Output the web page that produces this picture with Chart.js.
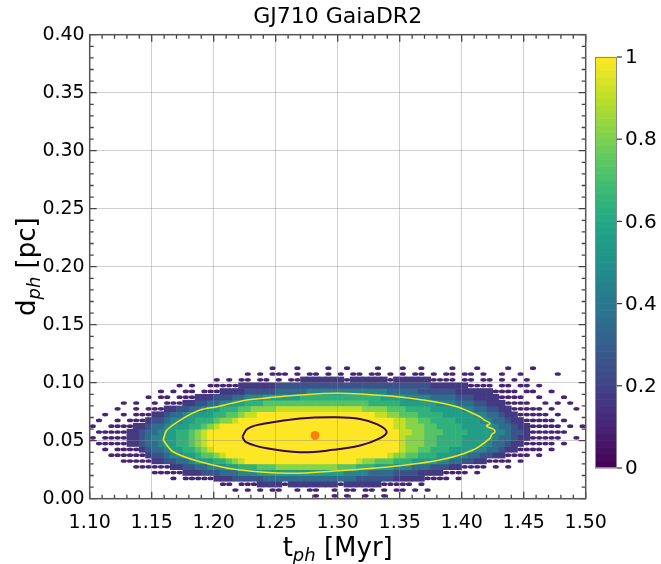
<!DOCTYPE html>
<html>
<head>
<meta charset="utf-8">
<script src="https://cdn.jsdelivr.net/npm/chart.js@4.4.0/dist/chart.umd.min.js"></script>
<style>
html,body{margin:0;padding:0;background:#fff;}
#wrap{width:661px;height:564px;position:relative;}
</style>
</head>
<body>
<div id="wrap"><canvas id="c" width="661" height="564"></canvas></div>
<script>
// ---------------- data ----------------
const TITLE = 'GJ710 GaiaDR2';
const xTickValues = [1.10, 1.15, 1.20, 1.25, 1.30, 1.35, 1.40, 1.45, 1.50];
const xTickLabels = ['1.10', '1.15', '1.20', '1.25', '1.30', '1.35', '1.40', '1.45', '1.50'];
const yTickValues = [0.00, 0.05, 0.10, 0.15, 0.20, 0.25, 0.30, 0.35, 0.40];
const yTickLabels = ['0.00', '0.05', '0.10', '0.15', '0.20', '0.25', '0.30', '0.35', '0.40'];
const colorbarTicks = [0, 0.2, 0.4, 0.6, 0.8, 1];
const colorbarLabels = ['0', '0.2', '0.4', '0.6', '0.8', '1'];

// density cells: column i covers t = 1.10 + 0.005*i, row j covers d = 0.005*j
const tBinStart = 1.10;
const tBinWidth = 0.005;
const dBinWidth = 0.005;
// normalised density for each level code
const levelValues = {'0': 0.10, '1': 0.17, '2': 0.26, '3': 0.35, '4': 0.45, '5': 0.55,
                     '6': 0.64, '7': 0.73, '8': 0.82, '9': 0.91, 'Y': 1.0};
// runs "firstCol-lastCol:level" for each row, bottom (j=0) to top
const densityRows = [
  "",
  "",
  "27-30:1 32-39:1 41-46:1",
  "20-22:1 23-27:2 28-42:3 43-48:2 49-53:1",
  "15-17:1 18-20:2 21-23:3 24-26:4 27-40:5 41-44:4 45-48:3 49-52:2 53-56:1",
  "13-14:1 15-16:2 17-18:3 19-21:4 22-23:5 24-26:6 27-29:7 30-39:8 40-42:7 43-45:6 46-48:5 49-51:4 52-54:3 55-57:2 58-59:1",
  "10-11:1 12-13:2 14-15:3 16:4 17-19:5 20-21:6 22:7 23:8 24:9 25-42:Y 43:9 44-45:8 46-48:7 49-51:6 52-55:5 56-57:4 58-59:3 60-61:2 62-63:1",
  "9:1 10-11:2 12:3 13-14:4 15-16:5 17:6 18-19:7 20:8 21:9 22-47:Y 48:9 49-50:8 51-52:7 53-55:6 56-58:5 59-60:4 61-62:3 63-64:2 65-66:1",
  "8:1 9:2 10-11:3 12:4 13-14:5 15-16:6 17:7 18:8 19:9 20-49:Y 50:9 51-52:8 53-54:7 55-57:6 58-61:5 62-63:4 64-65:3 66:2 67-68:1",
  "6-7:1 8:2 9-10:3 11:4 12-13:5 14-15:6 16:7 17:8 18:9 19-49:Y 50:9 51-53:8 54-55:7 56-59:6 60-63:5 64:4 65-66:3 67:2 68-69:1",
  "6-7:1 8:2 9:3 10-11:4 12-13:5 14-15:6 16:7 17:8 18:9 19-49:Y 50:9 51-53:8 54-55:7 56-59:6 60-64:5 65:4 66-67:3 68:2 69-70:1",
  "6-7:1 8:2 9-10:3 11:4 12-13:5 14-15:6 16:7 17:8 18:9 19-49:Y 50-51:9 52-53:8 54-56:7 57-60:6 61-64:5 65-66:4 67:3 68-69:2 70:1",
  "7-8:1 9:2 10-11:3 12:4 13-15:5 16-17:6 18:7 19:8 20:9 21-48:Y 49-50:9 51-53:8 54-55:7 56-59:6 60-64:5 65:4 66-67:3 68:2 69-70:1",
  "9:1 10-11:2 12:3 13-14:4 15-16:5 17-19:6 20:7 21-22:8 23:9 24-48:Y 49-50:9 51-52:8 53-54:7 55-58:6 59-62:5 63-64:4 65-66:3 67:2 68-69:1",
  "10-11:1 12:2 13-14:3 15:4 16-19:5 20-21:6 22-23:7 24:8 25-26:9 27-45:Y 46-47:9 48-49:8 50-52:7 53-56:6 57-61:5 62-63:4 64-65:3 66:2 67-68:1",
  "12-13:1 14-15:2 16-17:3 18:4 19-20:5 21-23:6 24-25:7 26-29:8 30-43:9 44-47:8 48-50:7 51-54:6 55-59:5 60-61:4 62-63:3 64-65:2 66-67:1",
  "15-16:1 17-18:2 19-20:3 21-22:4 23-24:5 25-27:6 28-44:7 45-49:6 50-55:5 56-58:4 59-61:3 62-63:2 64-66:1",
  "17-19:1 20-22:2 23-24:3 25-27:4 28-33:5 34-46:6 47-50:5 51-54:4 55-58:3 59-61:2 62-65:1",
  "21-24:1 25-29:2 30-34:3 35-47:4 48-52:3 53-58:2 59-64:1",
  "24-29:1 30-54:2 55-60:1",
  "34-40:1 42-47:1 49-54:1",
  "",
  ""
];
// isolated low-count cells (columns) for each row
const speckleCols = [
  [36, 39, 41, 44, 47],
  [23, 25, 27, 29, 30, 33, 35, 36, 39, 41, 42, 44, 45, 47, 49, 50, 52, 54],
  [21, 22, 24, 25, 26, 31, 40, 47, 48, 49, 50, 51, 53],
  [13, 15, 16, 17, 18, 19, 54, 55, 56, 57, 59],
  [10, 11, 12, 13, 14, 57, 58, 59, 60, 62],
  [7, 8, 9, 10, 11, 12, 60, 61, 62, 63, 65, 67],
  [5, 6, 7, 8, 9, 64, 65, 66, 67, 69],
  [3, 4, 5, 6, 7, 8, 67, 68, 69, 70, 72],
  [2, 4, 5, 6, 7, 69, 70, 71, 72, 74],
  [1, 2, 3, 4, 5, 70, 71, 72, 73, 74, 76],
  [0, 2, 3, 4, 5, 71, 72, 73, 74, 75, 78],
  [1, 2, 3, 4, 5, 71, 72, 73, 74, 75, 76],
  [0, 3, 4, 5, 6, 71, 72, 73, 74, 75, 77, 79],
  [1, 4, 6, 7, 8, 70, 71, 72, 73, 74, 76],
  [2, 5, 7, 8, 9, 69, 70, 71, 72, 73, 75],
  [4, 7, 9, 10, 11, 68, 69, 70, 71, 72, 74, 78],
  [5, 7, 10, 12, 13, 14, 67, 68, 69, 70, 73, 75, 77],
  [9, 11, 12, 14, 15, 16, 66, 67, 68, 69, 72, 76],
  [11, 13, 15, 16, 18, 19, 20, 65, 66, 67, 68, 70, 71, 74],
  [14, 16, 19, 20, 21, 22, 23, 61, 62, 63, 64, 66, 67, 69, 70, 72],
  [20, 22, 24, 25, 27, 28, 30, 32, 33, 41, 48, 55, 56, 57, 58, 60, 61, 63, 64, 66, 68, 70],
  [25, 27, 29, 30, 31, 33, 35, 36, 38, 40, 42, 43, 45, 46, 48, 50, 52, 53, 55, 57, 58, 60, 61, 63, 66, 69, 75],
  [29, 33, 38, 41, 46, 50, 53, 58, 62, 67, 71]
];

// outer (yellow) contour
const contourYellowT = [1.1592, 1.1623, 1.1753, 1.1890, 1.2027, 1.2269, 1.2454, 1.2696, 1.3002, 1.3422, 1.3688, 1.3962, 1.4147, 1.4180, 1.4228, 1.4200, 1.4255, 1.4269, 1.4240, 1.4228, 1.4091, 1.3825, 1.3422, 1.3002, 1.2615, 1.2212, 1.1890, 1.1672, 1.1592];
const contourYellowD = [0.0506, 0.0592, 0.0693, 0.0765, 0.0793, 0.0851, 0.0871, 0.0894, 0.0909, 0.0885, 0.0851, 0.0793, 0.0707, 0.0680, 0.0650, 0.0625, 0.0600, 0.0578, 0.0550, 0.0521, 0.0420, 0.0334, 0.0276, 0.0241, 0.0219, 0.0247, 0.0319, 0.0405, 0.0506];
// inner (dark) contour
const contourBlackT = [1.2231, 1.2275, 1.2427, 1.2696, 1.2965, 1.3180, 1.3320, 1.3395, 1.3330, 1.3180, 1.2965, 1.2696, 1.2427, 1.2260, 1.2231];
const contourBlackD = [0.0534, 0.0605, 0.0650, 0.0691, 0.0702, 0.0688, 0.0640, 0.0575, 0.0515, 0.0458, 0.0421, 0.0400, 0.0434, 0.0488, 0.0534];
// most likely point
const peakT = [1.2817];
const peakD = [0.0545];

// ---------------- helpers ----------------
const VIR = [[68,1,84],[72,36,117],[65,68,135],[53,95,141],[42,120,142],[33,145,140],
             [34,168,132],[68,191,112],[122,209,81],[189,223,38],[253,231,37]];
function viridis(v) {
  v = Math.max(0, Math.min(1, v));
  const n = VIR.length - 1, f = v * n;
  const i = Math.min(n - 1, Math.floor(f)), r = f - i;
  const a = VIR[i], b = VIR[i + 1];
  return 'rgb(' + Math.round(a[0] + (b[0] - a[0]) * r) + ',' + Math.round(a[1] + (b[1] - a[1]) * r) + ',' + Math.round(a[2] + (b[2] - a[2]) * r) + ')';
}
function parseRuns(s) {
  const out = [];
  s.trim().split(/\s+/).filter(Boolean).forEach(tok => {
    const parts = tok.split(':');
    const rg = parts[0].split('-').map(Number);
    const a = rg[0], b = rg.length > 1 ? rg[1] : rg[0];
    for (let i = a; i <= b; i++) out.push([i, parts[1]]);
  });
  return out;
}
function zip(xs, ys) { return xs.map((x, k) => ({x: x, y: ys[k]})); }

const FONT = "'DejaVu Sans', 'Liberation Sans', sans-serif";

// cells are painted before the grid so the grid sits on top
const densityPlugin = {
  id: 'density',
  beforeDraw(chart) {
    const ctx = chart.ctx, a = chart.chartArea, xs = chart.scales.x, ys = chart.scales.y;
    ctx.save();
    ctx.fillStyle = '#fff';
    ctx.fillRect(0, 0, chart.width, chart.height);
    ctx.beginPath(); ctx.rect(a.left, a.top, a.right - a.left, a.bottom - a.top); ctx.clip();
    densityRows.forEach((s, j) => {
      const yTop = ys.getPixelForValue((j + 1) * dBinWidth);
      const yBot = ys.getPixelForValue(j * dBinWidth);
      parseRuns(s).forEach(([i, lv]) => {
        const t0 = tBinStart + i * tBinWidth;
        const xl = xs.getPixelForValue(t0), xr = xs.getPixelForValue(t0 + tBinWidth);
        ctx.fillStyle = viridis(levelValues[lv]);
        ctx.fillRect(xl - 0.3, yTop - 0.3, xr - xl + 0.6, yBot - yTop + 0.6);
      });
      (speckleCols[j] || []).forEach(i => {
        const t0 = tBinStart + i * tBinWidth;
        const xl = xs.getPixelForValue(t0), xr = xs.getPixelForValue(t0 + tBinWidth);
        ctx.fillStyle = viridis(levelValues['0']);
        ctx.beginPath();
        ctx.ellipse((xl + xr) / 2, (yTop + yBot) / 2, (xr - xl) / 2, (yBot - yTop) * 0.32, 0, 0, Math.PI * 2);
        ctx.fill();
      });
    });
    ctx.restore();
  }
};

// inward ticks on all four sides and the frame
const framePlugin = {
  id: 'frame',
  afterDatasetsDraw(chart) {
    const ctx = chart.ctx, a = chart.chartArea, xs = chart.scales.x, ys = chart.scales.y;
    ctx.save();
    ctx.strokeStyle = '#444';
    ctx.lineWidth = 1.3;
    ctx.beginPath();
    for (let k = 0; k <= 40; k++) {
      const x = xs.getPixelForValue(1.10 + k * 0.01);
      const len = (k % 5 === 0) ? 7 : 4;
      ctx.moveTo(x, a.bottom); ctx.lineTo(x, a.bottom - len);
      ctx.moveTo(x, a.top); ctx.lineTo(x, a.top + len);
    }
    for (let k = 0; k <= 40; k++) {
      const y = ys.getPixelForValue(k * 0.01);
      const len = (k % 5 === 0) ? 7 : 4;
      ctx.moveTo(a.left, y); ctx.lineTo(a.left + len, y);
      ctx.moveTo(a.right, y); ctx.lineTo(a.right - len, y);
    }
    ctx.stroke();
    ctx.strokeStyle = '#555';
    ctx.lineWidth = 1.5;
    ctx.strokeRect(a.left, a.top, a.right - a.left, a.bottom - a.top);
    ctx.restore();
  },
  afterDraw(chart) {
    const ctx = chart.ctx, a = chart.chartArea;
    ctx.save();
    // colour bar
    const cbL = 595, cbR = 617, cbT = 57, cbB = 468, N = 60;
    for (let k = 0; k < N; k++) {
      const y0 = cbB - (cbB - cbT) * (k + 1) / N, y1 = cbB - (cbB - cbT) * k / N;
      ctx.fillStyle = viridis((k + 0.5) / N);
      ctx.fillRect(cbL, y0 - 0.3, cbR - cbL, y1 - y0 + 0.6);
    }
    ctx.strokeStyle = '#888'; ctx.lineWidth = 1;
    ctx.strokeRect(cbL + 0.5, cbT + 0.5, cbR - cbL - 1, cbB - cbT - 1);
    ctx.strokeStyle = '#333'; ctx.lineWidth = 1.2;
    ctx.fillStyle = '#000';
    ctx.font = '20px ' + FONT;
    ctx.textAlign = 'left'; ctx.textBaseline = 'middle';
    colorbarTicks.forEach((v, k) => {
      const y = cbB - (cbB - cbT) * v;
      ctx.beginPath(); ctx.moveTo(cbR, y); ctx.lineTo(cbR + 5, y); ctx.stroke();
      ctx.fillText(colorbarLabels[k], cbR + 8, y + 1);
    });
    // axis titles with subscripts
    function drawParts(parts, cx, baseY) {
      let w = 0;
      parts.forEach(p => { ctx.font = p.font; p.w = ctx.measureText(p.text).width; w += p.w; });
      let x = cx - w / 2;
      ctx.textAlign = 'left'; ctx.textBaseline = 'alphabetic';
      parts.forEach(p => { ctx.font = p.font; ctx.fillText(p.text, x, baseY + p.dy); x += p.w; });
    }
    ctx.fillStyle = '#000';
    const big = '26px ' + FONT, sub = 'italic 18px ' + FONT;
    drawParts([{text: 't', font: big, dy: 0}, {text: 'ph', font: sub, dy: 5}, {text: ' [Myr]', font: big, dy: 0}],
              (a.left + a.right) / 2, 556);
    ctx.translate(35, (a.top + a.bottom) / 2);
    ctx.rotate(-Math.PI / 2);
    drawParts([{text: 'd', font: big, dy: 0}, {text: 'ph', font: sub, dy: 5}, {text: ' [pc]', font: big, dy: 0}], 0, 0);
    ctx.restore();
  }
};

const chart = new Chart(document.getElementById('c'), {
  type: 'scatter',
  data: {
    datasets: [
      {label: 'peak', data: zip(peakT, peakD), pointRadius: 4.5, pointBackgroundColor: '#ff7f0e',
       pointBorderWidth: 0, showLine: false},
      {label: 'inner contour', data: zip(contourBlackT, contourBlackD), showLine: true, pointRadius: 0,
       borderColor: '#3a0a45', borderWidth: 2, tension: 0.4, fill: false},
      {label: 'outer contour', data: zip(contourYellowT, contourYellowD), showLine: true, pointRadius: 0,
       borderColor: '#f5e11a', borderWidth: 1.6, tension: 0.3, fill: false}
    ]
  },
  options: {
    responsive: false,
    animation: false,
    devicePixelRatio: 1,
    layout: {padding: {left: 0, right: 75.3, top: 0, bottom: 0}},
    plugins: {
      legend: {display: false},
      tooltip: {enabled: false},
      title: {display: true, text: TITLE, fullSize: false, color: '#000',
              font: {family: FONT, size: 22, weight: 'normal'}, padding: {top: 4, bottom: 4.3}}
    },
    scales: {
      x: {
        type: 'linear', min: 1.10, max: 1.50,
        afterBuildTicks(s) { s.ticks = xTickValues.map(v => ({value: v})); },
        afterFit(s) { s.height = 65.3; },
        ticks: {color: '#000', font: {family: FONT, size: 19}, padding: 13, maxRotation: 0,
                callback: (v, i) => xTickLabels[i]},
        grid: {color: 'rgba(140,140,140,0.42)', lineWidth: 1, drawTicks: false},
        border: {display: false}
      },
      y: {
        type: 'linear', min: 0, max: 0.40,
        afterBuildTicks(s) { s.ticks = yTickValues.map(v => ({value: v})); },
        afterFit(s) { s.width = 89.7; },
        ticks: {color: '#000', font: {family: FONT, size: 19}, padding: 5,
                callback: (v, i) => yTickLabels[i]},
        grid: {color: 'rgba(140,140,140,0.42)', lineWidth: 1, drawTicks: false},
        border: {display: false}
      }
    }
  },
  plugins: [densityPlugin, framePlugin]
});
</script>
</body>
</html>
